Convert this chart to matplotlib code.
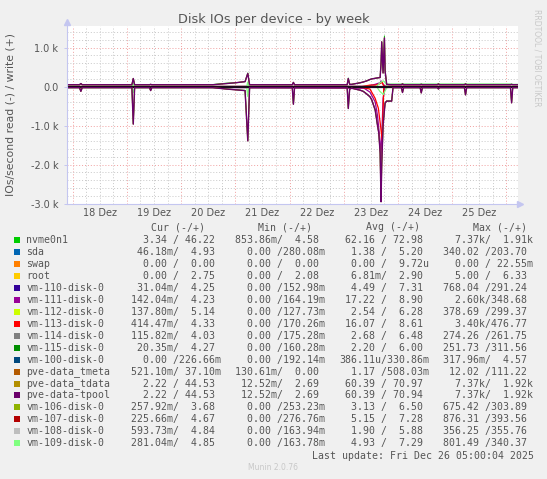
import matplotlib
matplotlib.use('Agg')
import matplotlib.pyplot as plt
from matplotlib.patches import Rectangle

# time axis: hours since 17 Dez 00:00, graph ends Fri Dec 26 05:00
hours = [21.3, 27.0, 27.6, 28.2,
         50.2, 50.8, 51.4,
         58.0, 58.5, 59.0,
         86.0, 92.0, 96.0, 100.3, 101.5, 102.3,
         121.2, 121.7, 122.2,
         145.5, 146.0, 146.6, 147.5, 151.2, 152.6, 154.2, 155.6, 156.4, 157.9, 158.9,
         159.5, 160.1, 160.5, 160.8, 161.4, 162.0, 162.3, 163.0, 165.2, 165.8,
         169.5, 170.0, 170.5,
         177.8, 178.3, 178.8,
         185.4, 185.9, 186.4,
         197.4, 197.9, 198.4,
         217.8, 218.3, 218.8, 221.0]

tpool_write = [50, 50, 80, 50,
               50, 210, 50,
               50, 60, 50,
               50, 80, 100, 130, 340, 50,
               50, 110, 50,
               50, 210, 60, 60, 100, 120, 150, 185, 200, 215, 225,
               230, 235, 600, 1150, 350, 1250, 400, 60, 50, 50,
               50, 70, 50,
               50, 60, 50,
               50, 70, 50,
               50, 70, 50,
               50, 60, 50, 50]
tpool_read = [-25, -25, -120, -25,
              -25, -960, -25,
              -25, -100, -25,
              -25, -60, -80, -100, -1390, -25,
              -25, -450, -25,
              -25, -560, -60, -40, -90, -120, -190, -260, -340, -600, -980,
              -1190, -1700, -2950, -2000, -1000, -600, -420, -370, -370, -25,
              -25, -150, -25,
              -25, -160, -25,
              -25, -60, -25,
              -25, -210, -25,
              -25, -415, -25, -25]

nvme_write = [50, 50, 80, 50,
              50, 210, 50,
              50, 60, 50,
              55, 90, 100, 130, 350, 50,
              50, 110, 50,
              50, 220, 60, 60, 100, 120, 150, 185, 200, 215, 225,
              230, 235, 600, 1150, 360, 1300, 400, 60, 65, 65,
              65, 75, 65,
              65, 70, 65,
              65, 75, 65,
              65, 75, 65,
              65, 65, 60, 60]
nvme_read = [-25, -25, -110, -25,
             -25, -950, -25,
             -25, -90, -25,
             -25, -55, -75, -95, -1380, -25,
             -25, -440, -25,
             -25, -550, -55, -35, -85, -115, -185, -255, -335, -590, -970,
             -1180, -1690, -2940, -1990, -990, -590, -410, -365, -365, -25,
             -25, -140, -25,
             -25, -150, -25,
             -25, -55, -25,
             -25, -200, -25,
             -25, -400, -25, -25]

vm111_hours = [21.3, 153.0, 155.6, 157.9, 158.9, 160.1, 160.5, 161.4, 162.3, 221.0]
vm111_read = [-1, -40, -140, -390, -730, -1415, -1830, -300, -10, -1]
vm111_write = [4, 10, 30, 60, 80, 100, 150, 60, 10, 4]

vm113_hours = [21.3, 152.0, 155.6, 157.9, 159.3, 160.4, 161.0, 161.7, 221.0]
vm113_read = [-1, -20, -60, -300, -550, -1060, -1370, -20, -1]
vm113_write = [5, 5, 40, 40, 60, 90, 120, 10, 5]

vm109_hours = [21.3, 50.2, 50.8, 51.4, 101.0, 101.5, 102.0, 158.5, 160.0, 161.5, 162.5, 163.5, 221.0]
vm109_read = [-1, -1, -150, -1, -1, -250, -1, -1, -120, -200, -80, -1, -1]
vm109_write = [5, 5, 80, 5, 5, 120, 5, 5, 100, 150, 90, 5, 5]

day_labels = ['18 Dez', '19 Dez', '20 Dez', '21 Dez', '22 Dez', '23 Dez', '24 Dez', '25 Dez']
y_ticks = [-3000, -2000, -1000, 0, 1000]
y_labels = ['-3.0 k', '-2.0 k', '-1.0 k', '0.0', '1.0 k']

names = ['nvme0n1', 'sda', 'swap', 'root', 'vm-110-disk-0', 'vm-111-disk-0', 'vm-112-disk-0',
         'vm-113-disk-0', 'vm-114-disk-0', 'vm-115-disk-0', 'vm-100-disk-0', 'pve-data_tmeta',
         'pve-data_tdata', 'pve-data-tpool', 'vm-106-disk-0', 'vm-107-disk-0', 'vm-108-disk-0',
         'vm-109-disk-0']
colors = ['#00CC00', '#0066B3', '#FF8000', '#FFCC00', '#330099', '#990099', '#CCFF00',
          '#FF0000', '#808080', '#008F00', '#00487D', '#B35A00', '#B38F00', '#6B006B',
          '#8FB300', '#B30000', '#BEBEBE', '#80FF80']
cur = ['  3.34 / 46.22 ', ' 46.18m/  4.93 ', '  0.00 /  0.00 ', '  0.00 /  2.75 ',
       ' 31.04m/  4.25 ', '142.04m/  4.23 ', '137.80m/  5.14 ', '414.47m/  4.33 ',
       '115.82m/  4.03 ', ' 20.35m/  4.27 ', '  0.00 /226.66m', '521.10m/ 37.10m',
       '  2.22 / 44.53 ', '  2.22 / 44.53 ', '257.92m/  3.68 ', '225.66m/  4.67 ',
       '593.73m/  4.84 ', '281.04m/  4.85 ']
mins = ['853.86m/  4.58 ', '  0.00 /280.08m', '  0.00 /  0.00 ', '  0.00 /  2.08 ',
        '  0.00 /152.98m', '  0.00 /164.19m', '  0.00 /127.73m', '  0.00 /170.26m',
        '  0.00 /175.28m', '  0.00 /160.28m', '  0.00 /192.14m', '130.61m/  0.00 ',
        ' 12.52m/  2.69 ', ' 12.52m/  2.69 ', '  0.00 /253.23m', '  0.00 /276.76m',
        '  0.00 /163.94m', '  0.00 /163.78m']
avgs = [' 62.16 / 72.98 ', '  1.38 /  5.20 ', '  0.00 /  9.72u', '  6.81m/  2.90 ',
        '  4.49 /  7.31 ', ' 17.22 /  8.90 ', '  2.54 /  6.28 ', ' 16.07 /  8.61 ',
        '  2.68 /  6.48 ', '  2.20 /  6.00 ', '386.11u/330.86m', '  1.17 /508.03m',
        ' 60.39 / 70.97 ', ' 60.39 / 70.94 ', '  3.13 /  6.50 ', '  5.15 /  7.28 ',
        '  1.90 /  5.88 ', '  4.93 /  7.29 ']
maxs = ['  7.37k/  1.91k', '340.02 /203.70 ', '  0.00 / 22.55m', '  5.00 /  6.33 ',
        '768.04 /291.24 ', '  2.60k/348.68 ', '378.69 /299.37 ', '  3.40k/476.77 ',
        '274.26 /261.75 ', '251.73 /311.56 ', '317.96m/  4.57 ', ' 12.02 /111.22 ',
        '  7.37k/  1.92k', '  7.37k/  1.92k', '675.42 /303.89 ', '876.31 /393.56 ',
        '356.25 /355.76 ', '801.49 /340.37 ']

W, H = 547, 479
def fx(px):
    return px / W
def fy(py):
    return 1 - py / H

text_col = '#555555'
axis_col = '#C4C6F0'
fig = plt.figure(figsize=(W / 100, H / 100), dpi=100, facecolor='#F0F0F0')
ax = fig.add_axes([fx(66.7), fy(203.7), fx(517.7) - fx(66.7), fy(26) - fy(203.7)])
ax.set_facecolor('white')

# grid
for h in range(24, 222, 6):
    if h % 24 == 0:
        ax.axvline(h, color='#F0A0A0', lw=0.7, ls=(0, (1, 2)), zorder=0)
    else:
        ax.axvline(h, color='#C8C8C8', lw=0.7, ls=(0, (1, 2)), zorder=0)
for v in range(-3000, 1600, 200):
    if v % 1000 == 0:
        ax.axhline(v, color='#F0A0A0', lw=0.7, ls=(0, (1, 2)), zorder=0)
    else:
        ax.axhline(v, color='#C8C8C8', lw=0.7, ls=(0, (1, 2)), zorder=0)

lw = 0.9
ax.plot(hours, nvme_write, color=colors[0], lw=0.7)
ax.plot(hours, nvme_read, color=colors[0], lw=0.7)
ax.plot(vm111_hours, vm111_write, color=colors[5], lw=lw)
ax.plot(vm111_hours, vm111_read, color=colors[5], lw=lw)
ax.plot(vm113_hours, vm113_write, color=colors[7], lw=lw)
ax.plot(vm113_hours, vm113_read, color=colors[7], lw=lw)
ax.plot(vm109_hours, vm109_write, color=colors[17], lw=lw)
ax.plot(vm109_hours, vm109_read, color=colors[17], lw=lw)
# dark band of the many quiet devices around zero
ax.axhline(0, color='#1A0A1A', lw=1.6)
ax.plot(hours, tpool_write, color=colors[12], lw=0.8)
ax.plot(hours, tpool_read, color=colors[12], lw=0.8)
ax.plot(hours, tpool_write, color=colors[13], lw=1.0)
ax.plot(hours, tpool_read, color=colors[13], lw=1.0)

ax.set_xlim(21.33, 221.0)
ax.set_ylim(-3000, 1556)
ax.set_xticks([24 * k + 12 for k in range(1, 9)], day_labels)
ax.set_yticks(y_ticks, y_labels)
ax.tick_params(axis='x', length=0, pad=3, labelsize=7, labelcolor=text_col)
ax.tick_params(axis='y', length=2, width=0.7, color=axis_col, pad=4, labelsize=7, labelcolor=text_col)
for s in ['top', 'right']:
    ax.spines[s].set_visible(False)
for s in ['left', 'bottom']:
    ax.spines[s].set_color(axis_col)
    ax.spines[s].set_linewidth(0.8)
ax.plot([0], [1.025], marker='^', ms=4, color=axis_col, transform=ax.transAxes, clip_on=False)
ax.plot([1.006], [0], marker='>', ms=4, color=axis_col, transform=ax.transAxes, clip_on=False)

fig.text(fx(273.7), fy(19.3), 'Disk IOs per device - by week', ha='center', va='center',
         fontsize=9.3, color=text_col)
fig.text(fx(10.5), fy(114), 'IOs/second read (-) / write (+)', rotation=90, ha='center',
         va='center', fontsize=7.8, color=text_col)
fig.text(fx(537), fy(58), 'RRDTOOL / TOBI OETIKER', rotation=270, ha='center', va='center',
         fontsize=5.5, color='#C8C8C8')

# legend
mono = dict(family='DejaVu Sans Mono', fontsize=7.15, color=text_col, va='center')
fig.text(fx(151), fy(227.3), 'Cur (-/+)', **mono)
fig.text(fx(258), fy(227.3), 'Min (-/+)', **mono)
fig.text(fx(365.5), fy(227.3), 'Avg (-/+)', **mono)
fig.text(fx(472.6), fy(227.3), 'Max (-/+)', **mono)
for i in range(len(names)):
    y = 240 + 11.96 * i
    fig.add_artist(Rectangle((fx(14), fy(y + 3)), 6 / W, 6 / H, transform=fig.transFigure,
                             facecolor=colors[i], edgecolor='none'))
    fig.text(fx(26.2), fy(y), names[i], **mono)
    fig.text(fx(130.8), fy(y), cur[i], **mono)
    fig.text(fx(235.4), fy(y), mins[i], **mono)
    fig.text(fx(339), fy(y), avgs[i], **mono)
    fig.text(fx(443), fy(y), maxs[i], **mono)
fig.text(fx(311.5), fy(455.7), 'Last update: Fri Dec 26 05:00:04 2025', **mono)
fig.text(fx(273), fy(468), 'Munin 2.0.76', ha='center', va='center', fontsize=5.5, color='#C8C8C8')

fig.savefig('out.png', dpi=100, facecolor=fig.get_facecolor())
